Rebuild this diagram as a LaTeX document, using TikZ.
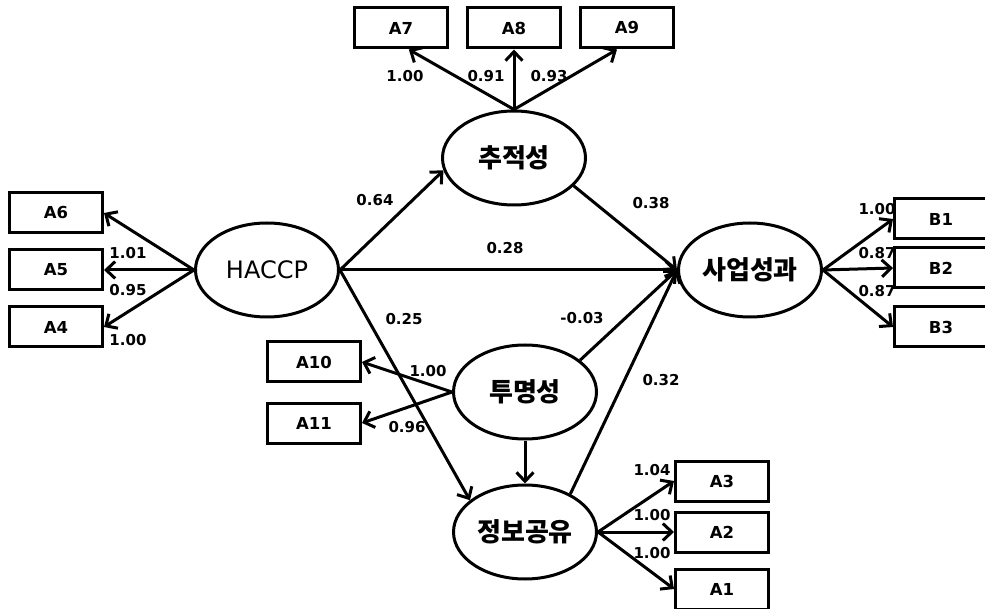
\documentclass[tikz,border=0pt]{standalone}
\usepackage{fontspec}
\setmainfont{DejaVu Sans}
\newfontfamily\korFont{Noto Sans CJK KR}
\usetikzlibrary{shapes.geometric, arrows.meta}
\tikzstyle{pathDiagram} = [x = 1pt, y = -1pt]
\tikzstyle{latentStyle} = [draw, ellipse, line width = 3pt, minimum width = 143pt, minimum height = 94pt, inner sep = 0pt]
\tikzstyle{latentText} = [font = \korFont\bfseries\fontsize{26}{26}\selectfont]
\tikzstyle{indicatorStyle} = [draw, rectangle, line width = 3pt, minimum width = 93pt, minimum height = 40pt, inner sep = 0pt, font = \bfseries\fontsize{16.5}{16.5}\selectfont]
\tikzstyle{pathLine} = [line width = 3pt, -{Straight Barb[length = 9pt, width = 17pt]}]
\tikzstyle{coefText} = [font = \bfseries\fontsize{15}{15}\selectfont, inner sep = 0pt]
\newcommand{\latent}[4]{\node [latentStyle, #4] (#1) at (#2) {#3};}
\newcommand{\indicator}[3]{\node [indicatorStyle] (#1) at (#2) {#3};}
\newcommand{\coef}[3]{\node [coefText] (#1) at (#2) {#3};}
\newcommand{\pathArrow}[2]{\draw [pathLine] (#1) -- (#2);}

\begin{document}
\begin{tikzpicture}[pathDiagram]
  \useasboundingbox (0,0) rectangle (985,609);

  % latent variables
  \latent{haccp}{267,270}{HACCP}{font = \fontsize{24}{24}\selectfont}
  \latent{tracking}{514,158}{추적성}{latentText}
  \latent{perf}{750,270}{사업성과}{latentText}
  \latent{transparency}{525,392}{투명성}{latentText}
  \latent{sharing}{525,532}{정보공유}{latentText}

  % observed items
  \indicator{a6}{56,213}{A6}
  \indicator{a5}{56,270}{A5}
  \indicator{a4}{56,327}{A4}
  \indicator{a7}{401,28}{A7}
  \indicator{a8}{514,28}{A8}
  \indicator{a9}{627,28}{A9}
  \indicator{b1}{941,219}{B1}
  \indicator{b2}{941,268}{B2}
  \indicator{b3}{941,327}{B3}
  \indicator{a10}{314,362}{A10}
  \indicator{a11}{314,423}{A11}
  \indicator{a3}{722,481}{A3}
  \indicator{a2}{722,532}{A2}
  \indicator{a1}{722,589}{A1}

  % measurement paths
  \pathArrow{haccp.west}{a6.east}
  \pathArrow{haccp.west}{a5.east}
  \pathArrow{haccp.west}{a4.east}
  \pathArrow{tracking.north}{a7.290}
  \pathArrow{tracking.north}{a8.south}
  \pathArrow{tracking.north}{a9.245}
  \pathArrow{perf.east}{b1.west}
  \pathArrow{perf.east}{b2.west}
  \pathArrow{perf.east}{b3.west}
  \pathArrow{transparency.west}{a10.east}
  \pathArrow{transparency.west}{a11.east}
  \pathArrow{sharing.east}{a3.west}
  \pathArrow{sharing.east}{a2.west}
  \pathArrow{sharing.east}{a1.west}

  % structural paths
  \pathArrow{haccp.east}{tracking.190}
  \pathArrow{haccp.east}{perf.west}
  \pathArrow{haccp.east}{sharing.150}
  \pathArrow{tracking.-25}{perf.west}
  \pathArrow{transparency.30}{perf.west}
  \pathArrow{sharing.40}{perf.west}
  \pathArrow{transparency.south}{sharing.north}

  % coefficients
  \coef{cA6}{128,253}{1.01}
  \coef{cA5}{128,290}{0.95}
  \coef{cA4}{128,340}{1.00}
  \coef{cA7}{405,76}{1.00}
  \coef{cA8}{486,76}{0.91}
  \coef{cA9}{549,76}{0.93}
  \coef{cB1}{877,209}{1.00}
  \coef{cB2}{877,253}{0.87}
  \coef{cB3}{877,291}{0.87}
  \coef{cA10}{428,371}{1.00}
  \coef{cA11}{407,427}{0.96}
  \coef{cA3}{652,470}{1.04}
  \coef{cA2}{652,515}{1.00}
  \coef{cA1}{652,553}{1.00}
  \coef{cTrack}{375,200}{0.64}
  \coef{cDirect}{505,248}{0.28}
  \coef{cShare}{404,319}{0.25}
  \coef{cTrackPerf}{651,203}{0.38}
  \coef{cTransPerf}{582,318}{-0.03}
  \coef{cSharePerf}{661,380}{0.32}
\end{tikzpicture}
\end{document}
